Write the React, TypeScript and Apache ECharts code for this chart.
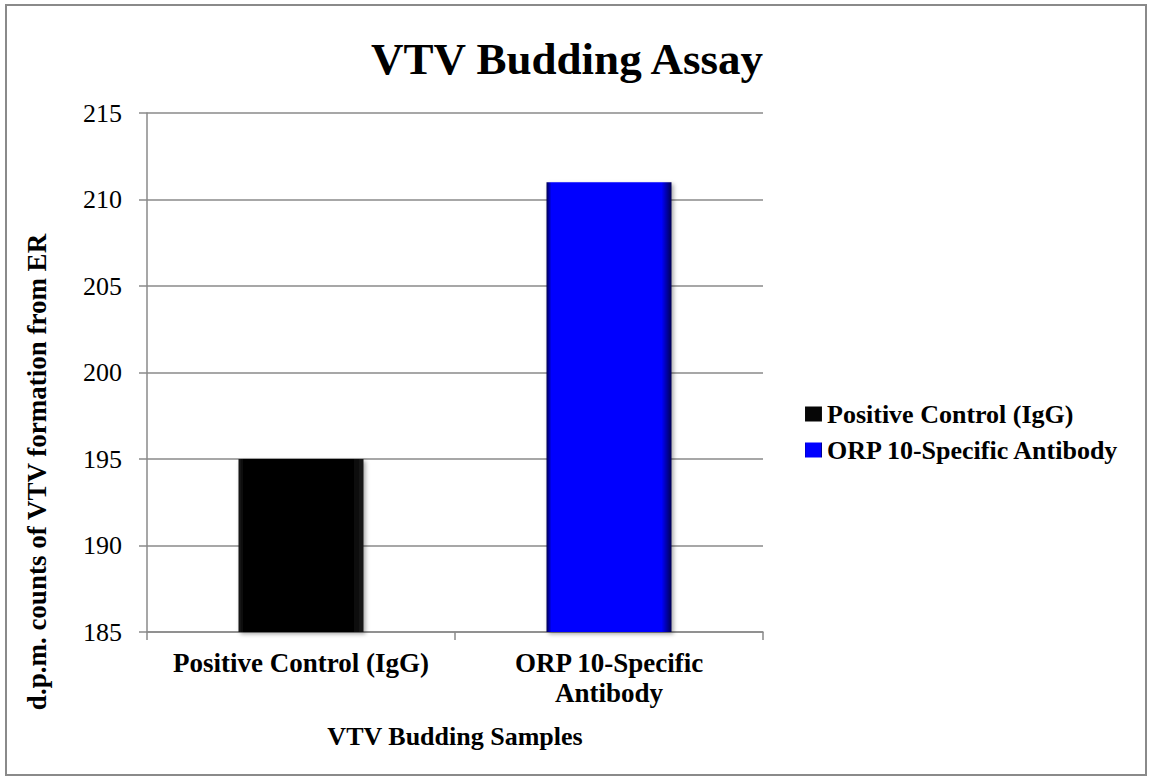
import React, { useEffect, useRef } from "react";
import * as echarts from "echarts";

const chartTitle = "VTV Budding Assay";
const categories = ["Positive Control (IgG)", "ORP 10-Specific Antibody"];
const values = [195, 211];
const barColors = ["#060606", "#0000ff"];
const barEdgeColors = ["#1a1a1a", "#000050"];
const yMin = 185;
const yMax = 215;
const yStep = 5;
const yAxisTitle = "d.p.m. counts of VTV formation from ER";
const xAxisTitle = "VTV Budding Samples";

const SERIF = "'Liberation Serif', 'Times New Roman', serif";
const GRAY = "#8a8a8a";

export default function App() {
  const ref = useRef<HTMLDivElement>(null);
  useEffect(() => {
    if (!ref.current) return;
    const chart = echarts.init(ref.current, undefined, { renderer: "svg" });
    const series = categories.map((name, i) => ({
      name,
      type: "bar",
      barWidth: 125,
      barGap: "-100%",
      data: values.map((v, j) => (j === i ? v : "-")),
      itemStyle: {
        color: new echarts.graphic.LinearGradient(0, 0, 1, 0, [
          { offset: 0, color: barEdgeColors[i] },
          { offset: 0.04, color: barColors[i] },
          { offset: 0.92, color: barColors[i] },
          { offset: 1, color: barEdgeColors[i] },
        ]),
        shadowColor: "rgba(0,0,0,0.35)",
        shadowBlur: 4,
        shadowOffsetX: 2,
        shadowOffsetY: 2,
      },
    }));
    chart.setOption({
      animation: false,
      backgroundColor: "#ffffff",
      title: {
        text: chartTitle,
        left: 562,
        top: 31,
        textAlign: "center",
        textStyle: {
          fontFamily: SERIF,
          fontSize: 45,
          fontWeight: "bold",
          color: "#000",
        },
      },
      legend: {
        orient: "vertical",
        left: 800,
        top: 396,
        itemWidth: 17,
        itemHeight: 15,
        itemGap: 10,
        icon: "rect",
        textStyle: {
          fontFamily: SERIF,
          fontSize: 26,
          fontWeight: "bold",
          color: "#000",
        },
        data: categories,
      },
      grid: { left: 147, top: 113, right: 390, bottom: 149, containLabel: false },
      xAxis: {
        type: "category",
        data: categories,
        axisLine: { show: true, lineStyle: { color: GRAY, width: 1.5 } },
        axisTick: { show: true, length: 8, lineStyle: { color: GRAY, width: 1.5 } },
        axisLabel: {
          interval: 0,
          margin: 16,
          fontFamily: SERIF,
          fontSize: 27,
          fontWeight: "bold",
          lineHeight: 30,
          color: "#000",
          formatter: (v: string) => v.replace("10-Specific ", "10-Specific\n"),
        },
      },
      yAxis: {
        type: "value",
        min: yMin,
        max: yMax,
        interval: yStep,
        axisLine: { show: true, lineStyle: { color: GRAY, width: 1.5 } },
        axisTick: { show: true, length: 8, lineStyle: { color: GRAY, width: 1.5 } },
        splitLine: { show: true, lineStyle: { color: GRAY, width: 1.5 } },
        axisLabel: {
          margin: 25,
          fontFamily: SERIF,
          fontSize: 26,
          color: "#000",
        },
      },
      graphic: [
        {
          type: "rect",
          shape: { x: 6, y: 5, width: 1140, height: 770 },
          style: { fill: "none", stroke: GRAY, lineWidth: 2 },
          silent: true,
        },
        {
          type: "text",
          x: 37,
          y: 472,
          rotation: Math.PI / 2,
          style: {
            text: yAxisTitle,
            fontFamily: SERIF,
            fontSize: 27,
            fontWeight: "bold",
            fill: "#000",
            align: "center",
            verticalAlign: "middle",
          },
        },
        {
          type: "text",
          x: 455,
          y: 736,
          style: {
            text: xAxisTitle,
            fontFamily: SERIF,
            fontSize: 26,
            fontWeight: "bold",
            fill: "#000",
            align: "center",
            verticalAlign: "middle",
          },
        },
      ],
      series,
    });
    return () => chart.dispose();
  }, []);
  return (
    <div
      ref={ref}
      style={{ position: "fixed", left: 0, top: 0, width: 1153, height: 781 }}
    />
  );
}
